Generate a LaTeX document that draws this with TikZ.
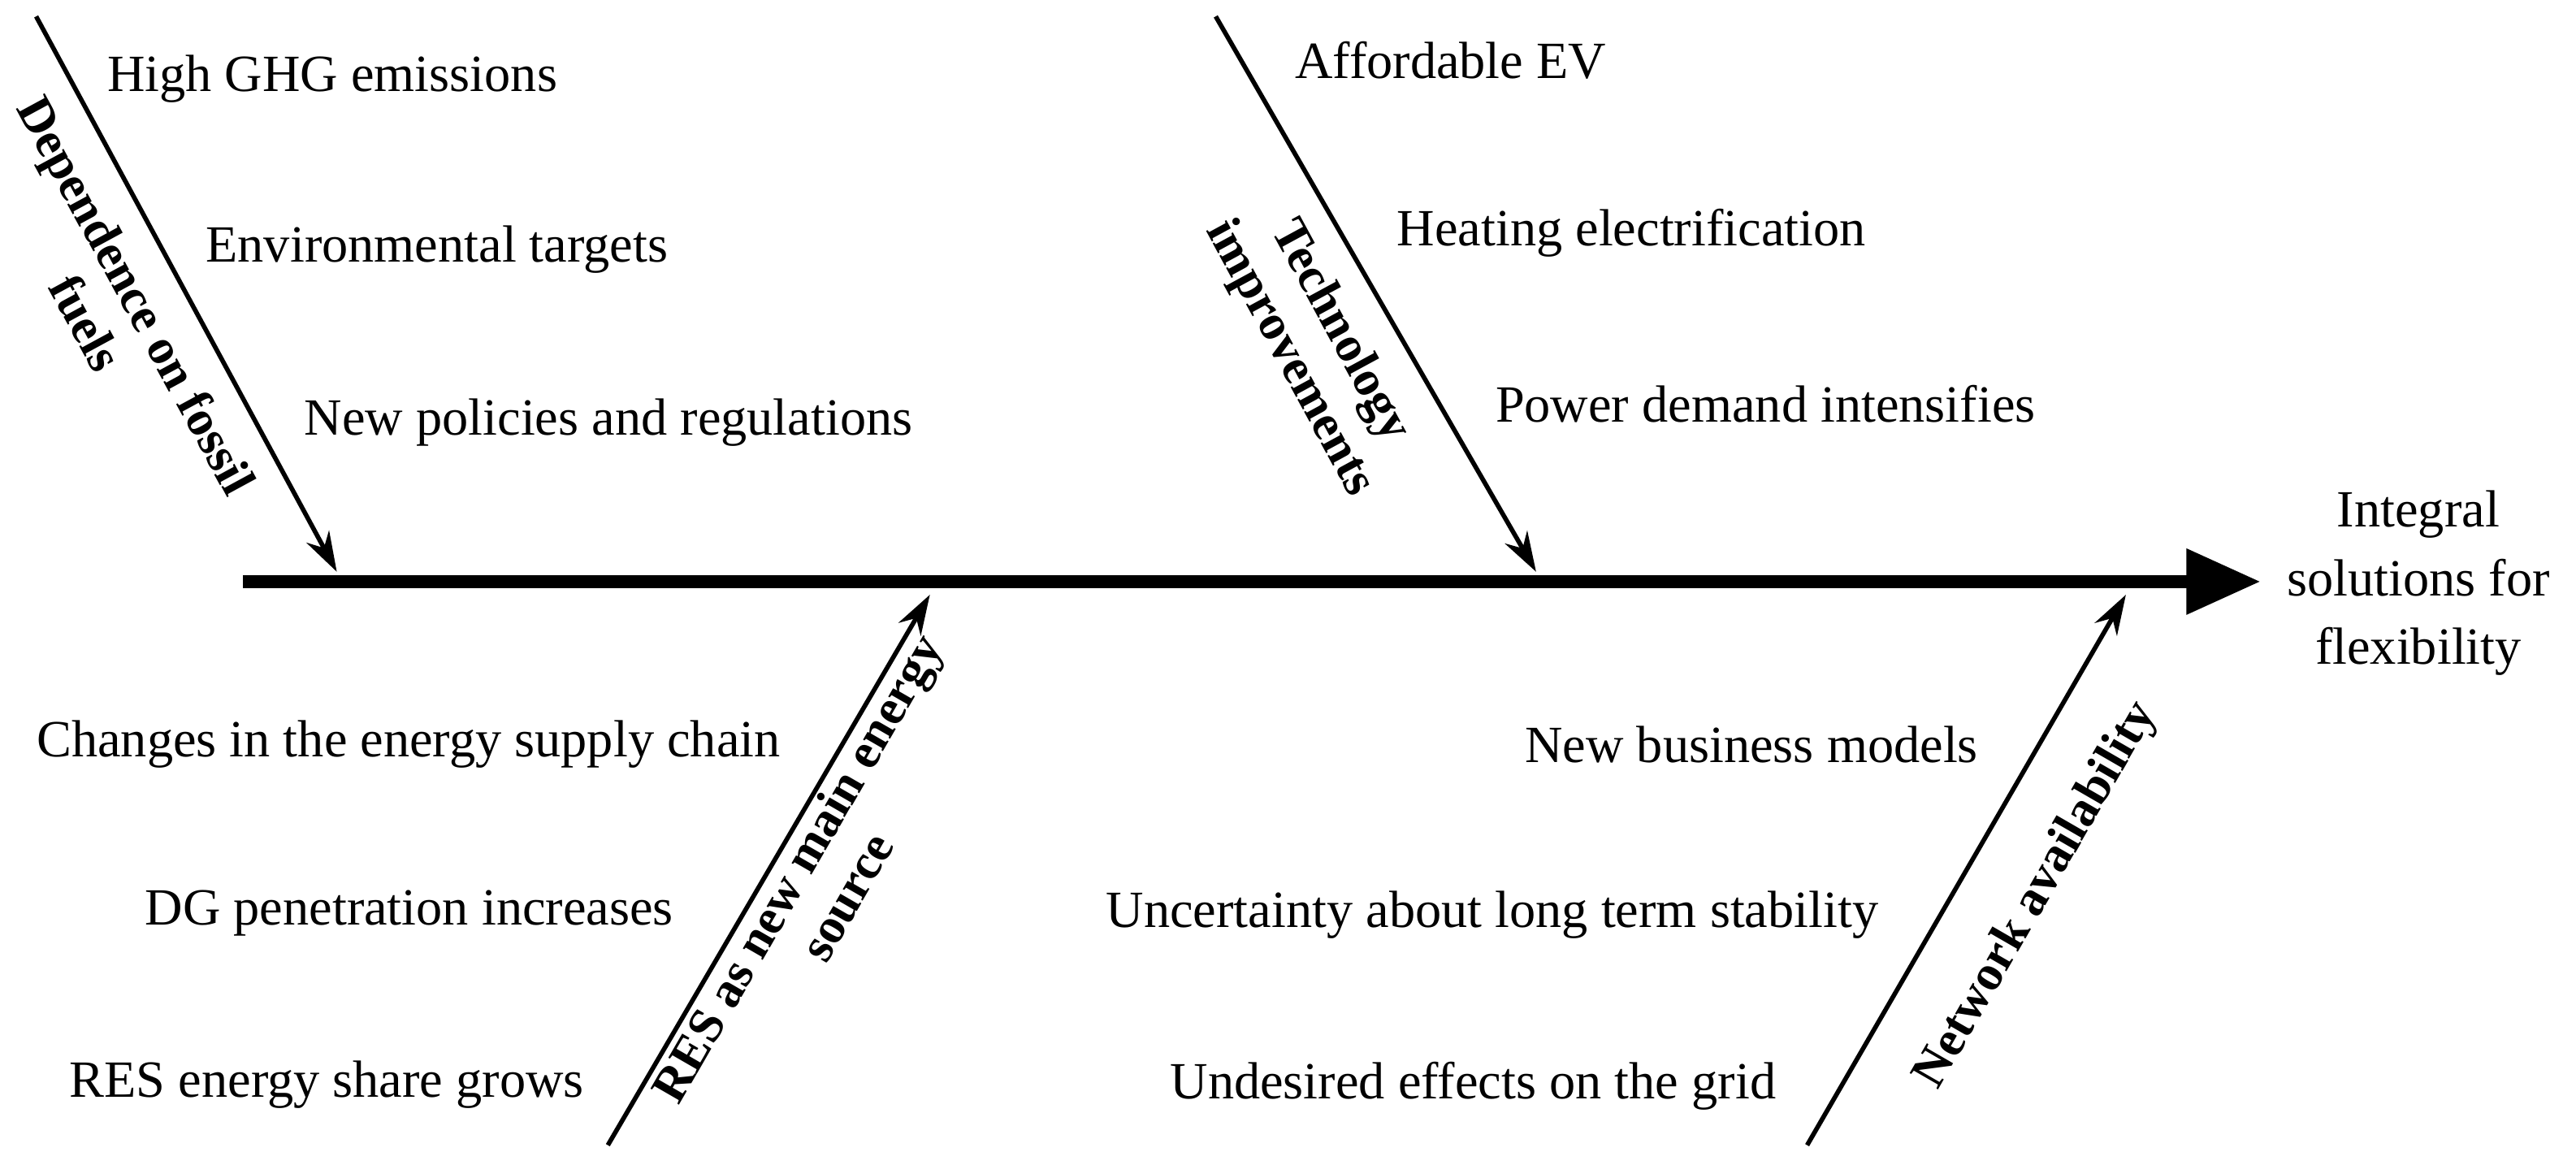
\documentclass[tikz,border=0pt]{standalone}
\usepackage{fontspec}
\setmainfont{Liberation Serif}
\usetikzlibrary{arrows.meta}
\begin{document}
\begin{tikzpicture}[x=0.02022cm,y=-0.02022cm,
  lbl/.style={font=\fontsize{18.3}{22}\selectfont,anchor=west,inner sep=0},
  bone/.style={line width=1.6pt,-{Stealth[length=14pt,width=9pt]}},
  cat/.style={font=\fontsize{17.5}{20}\selectfont\bfseries,align=center,inner sep=0}]
\useasboundingbox (0,0) rectangle (1568,709);
\coordinate (s0) at (148,354); \coordinate (s1) at (1376,354);
\draw[line width=4.5pt,-{Triangle[length=26pt,width=22pt]}] (s0) -- (s1);
\node[font=\fontsize{18.3}{24}\selectfont,align=center] (res) at (1472,355) {Integral\\solutions for\\flexibility};
\coordinate (a0) at (22,10); \coordinate (a1) at (205,348);
\coordinate (b0) at (740,10); \coordinate (b1) at (935,348);
\coordinate (c0) at (370,697); \coordinate (c1) at (566,362);
\coordinate (d0) at (1100,697); \coordinate (d1) at (1294,362);
\draw[bone] (a0) -- (a1);
\draw[bone] (b0) -- (b1);
\draw[bone] (c0) -- (c1);
\draw[bone] (d0) -- (d1);
\node[cat,rotate=-61.5] (ca) at (68,188) {Dependence on fossil\\fuels};
\node[cat,rotate=-61.5] (cb) at (800,210) {Technology\\improvements};
\node[cat,rotate=60] (cc) at (500,537) {RES as new main energy\\source};
\node[cat,rotate=60] (cd) at (1240,545) {Network availability};
\node[lbl] (t1) at (65,48) {High GHG emissions};
\node[lbl] (t2) at (125,152) {Environmental targets};
\node[lbl] (t3) at (185,257) {New policies and regulations};
\node[lbl] (t4) at (788,37) {Affordable EV};
\node[lbl] (t5) at (850,142) {Heating electrification};
\node[lbl] (t6) at (910,246) {Power demand intensifies};
\node[lbl] (t7) at (22,453) {Changes in the energy supply chain};
\node[lbl] (t8) at (88,556) {DG penetration increases};
\node[lbl] (t9) at (42,660) {RES energy share grows};
\node[lbl] (t10) at (928,453) {New business models};
\node[lbl] (t11) at (673,557) {Uncertainty about long term stability};
\node[lbl] (t12) at (712,661) {Undesired effects on the grid};
\end{tikzpicture}
\end{document}
